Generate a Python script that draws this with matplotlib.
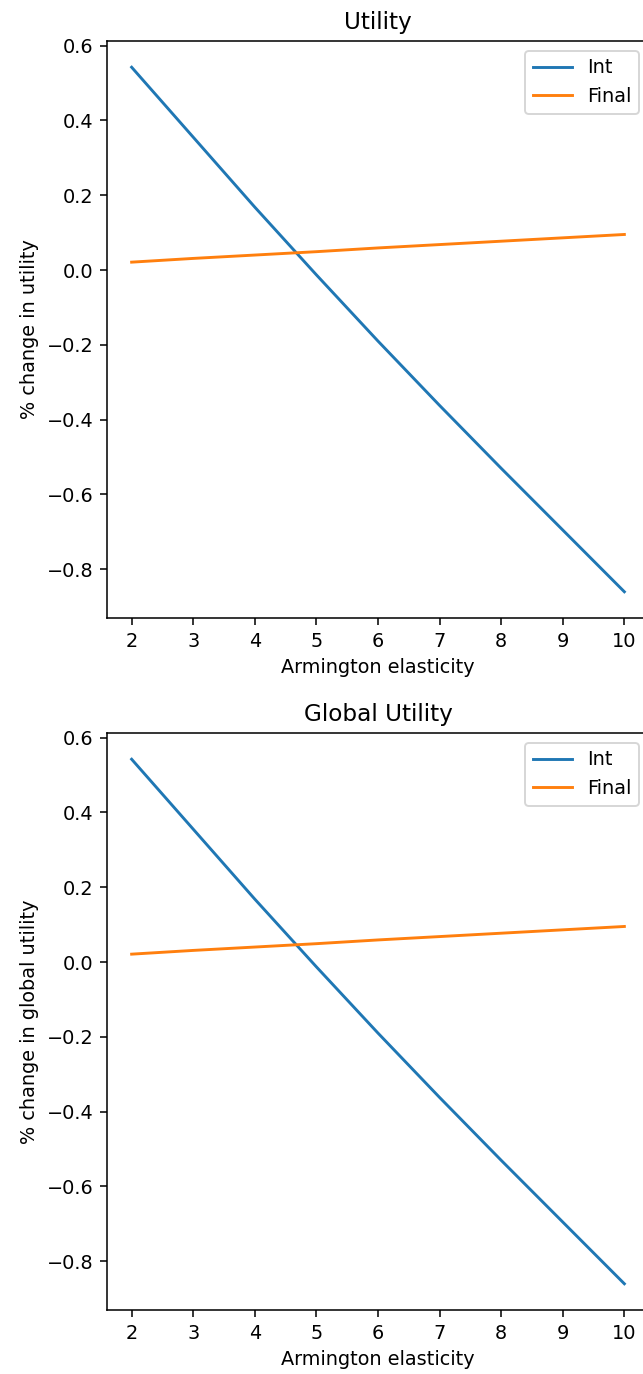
import numpy as np
import matplotlib
matplotlib.use("Agg")
import matplotlib.pyplot as plt

# Armington elasticities on the x axis
sigma = [2, 3, 4, 5, 6, 7, 8, 9, 10]

# % change in utility
util_int = [0.542, 0.355, 0.168, -0.013, -0.190, -0.362, -0.530, -0.695, -0.860]
util_final = [0.021, 0.031, 0.040, 0.049, 0.059, 0.068, 0.077, 0.086, 0.095]

# % change in global utility
glob_int = [0.542, 0.355, 0.168, -0.013, -0.190, -0.362, -0.530, -0.695, -0.860]
glob_final = [0.021, 0.031, 0.040, 0.049, 0.059, 0.068, 0.077, 0.086, 0.095]

titles = ["Utility", "Global Utility"]
ylabels = ["% change in utility", "% change in global utility"]

DPI = 139
fig = plt.figure(figsize=(643 / DPI, 1374 / DPI), dpi=DPI)

# axes boxes in figure fractions (left, bottom, width, height)
boxes = [
    [107 / 643, 1 - 618 / 1374, 542 / 643, 577 / 1374],
    [107 / 643, 1 - 1310 / 1374, 542 / 643, 577 / 1374],
]
series = [(util_int, util_final), (glob_int, glob_final)]

for box, (y_int, y_final), title, ylab in zip(boxes, series, titles, ylabels):
    ax = fig.add_axes(box)
    ax.plot(sigma, y_int, label="Int")
    ax.plot(sigma, y_final, label="Final")
    ax.set_title(title)
    ax.set_xlabel("Armington elasticity")
    ax.set_ylabel(ylab)
    ax.set_xticks(sigma)
    ax.legend(loc="upper right")

fig.savefig("out.png", dpi=DPI)
